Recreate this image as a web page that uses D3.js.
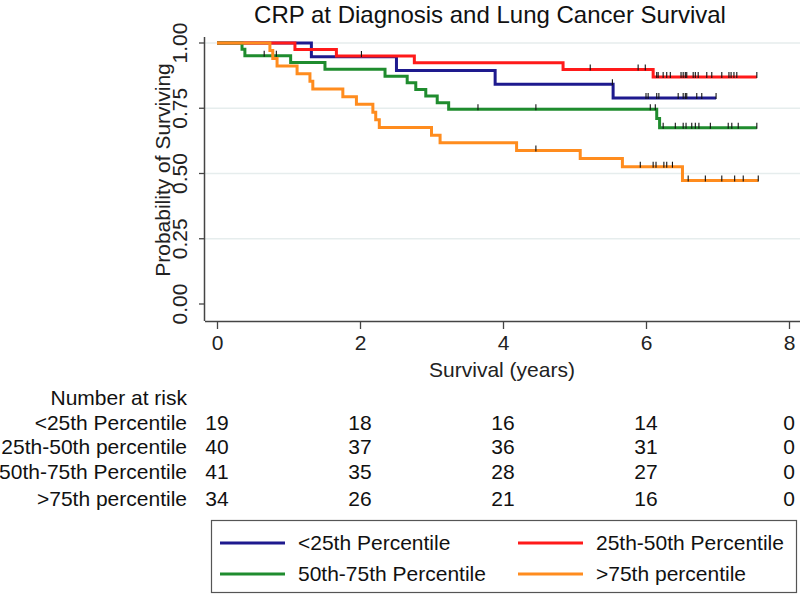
<!DOCTYPE html>
<html><head><meta charset="utf-8">
<script src="https://cdn.jsdelivr.net/npm/d3@7"></script>
<style>body{margin:0;background:#fff}svg{display:block;font-family:"Liberation Sans",Arial,sans-serif}</style>
</head><body><svg id="c" width="800" height="596"></svg>
<script>
const groups = ["<25th Percentile","25th-50th percentile","50th-75th Percentile",">75th percentile"];
const legendLabels = ["<25th Percentile","25th-50th Percentile","50th-75th Percentile",">75th percentile"];
const colors = ["#1e1a8e","#ff1a1a","#1f8c2e","#ff8c1e"];
const xTicks = [0,2,4,6,8];
const yTicks = [0,0.25,0.5,0.75,1];
const yTickLabels = ["0.00","0.25","0.50","0.75","1.00"];

// Kaplan-Meier step data
const timesLt25 = [0,1.32,2.51,3.89,5.54];
const survLt25  = [1,0.947,0.895,0.842,0.789];
const endLt25 = 6.98;
const censLt25 = [5.53,6.0,6.03,6.15,6.18,6.45,6.52,6.55,6.57,6.71,6.78,6.98];

const times2550 = [0,1.09,1.67,2.76,4.84,6.10];
const surv2550  = [1,0.975,0.95,0.924,0.898,0.870];
const end2550 = 7.55;
const cens2550 = [2.02,5.22,5.89,5.99,6.15,6.17,6.24,6.29,6.34,6.49,6.52,6.55,6.57,6.66,6.69,6.73,6.85,6.92,7.06,7.16,7.19,7.23,7.27,7.55];

const times5075 = [0,0.35,0.39,1.03,1.51,2.35,2.66,2.78,2.92,3.08,3.24,6.15,6.19];
const surv5075  = [1,0.976,0.951,0.925,0.899,0.873,0.848,0.822,0.797,0.771,0.746,0.711,0.675];
const end5075 = 7.55;
const cens5075 = [0.66,0.83,3.65,4.46,6.06,6.13,6.24,6.41,6.52,6.56,6.64,6.69,6.74,6.90,7.15,7.20,7.29,7.55];

const timesGt75 = [0,0.74,0.78,0.84,1.12,1.30,1.34,1.76,1.95,2.18,2.22,2.27,3.00,3.12,4.19,5.08,5.67,6.51];
const survGt75  = [1,0.971,0.941,0.912,0.882,0.853,0.824,0.794,0.765,0.735,0.706,0.676,0.647,0.618,0.588,0.557,0.526,0.473];
const endGt75 = 7.57;
const censGt75 = [4.46,5.92,6.10,6.14,6.25,6.29,6.37,6.59,6.83,7.06,7.24,7.36,7.57];

// number at risk (rows = groups, cols = xTicks)
const riskLt25 = [19,18,16,14,0];
const risk2550 = [40,37,36,31,0];
const risk5075 = [41,35,28,27,0];
const riskGt75 = [34,26,21,16,0];

const series = [
  {t:timesLt25,s:survLt25,end:endLt25,c:censLt25},
  {t:times2550,s:surv2550,end:end2550,c:cens2550},
  {t:times5075,s:surv5075,end:end5075,c:cens5075},
  {t:timesGt75,s:survGt75,end:endGt75,c:censGt75}
];
const risk = [riskLt25,risk2550,risk5075,riskGt75];

const svg = d3.select("#c");
const x = d3.scaleLinear().domain([0,8]).range([217,789]);
const y = d3.scaleLinear().domain([0,1]).range([304,43]);
const axisX0 = 205, axisY0 = 321;
const FS = 21;

// title
svg.append("text").attr("x",490).attr("y",23).attr("text-anchor","middle")
  .attr("font-size",24).attr("fill","#111").text("CRP at Diagnosis and Lung Cancer Survival");

// gridlines
svg.append("g").selectAll("line").data(yTicks.filter(d=>d>0)).join("line")
  .attr("x1",axisX0).attr("x2",800).attr("y1",d=>y(d)).attr("y2",d=>y(d))
  .attr("stroke","#e6eded").attr("stroke-width",1.5);

// y axis
const yAxis = d3.axisLeft(y).tickValues(yTicks).tickFormat((d,i)=>yTickLabels[i]).tickSize(6).tickPadding(4);
const gy = svg.append("g").attr("transform",`translate(${axisX0},0)`).call(yAxis);
gy.select(".domain").attr("d",`M-0.5,37V${axisY0}`).attr("stroke","#444").attr("stroke-width",1.5);
gy.selectAll(".tick").attr("transform",null);
gy.selectAll(".tick line").attr("stroke","#444").attr("stroke-width",1.3)
  .attr("y1",d=>y(d)).attr("y2",d=>y(d));
gy.selectAll(".tick text").attr("font-size",FS).attr("fill","#222").attr("text-anchor","middle")
  .attr("x",null).attr("y",0).attr("dy","0")
  .attr("transform",d=>`translate(-18,${y(d)}) rotate(-90)`);

// x axis
const xAxis = d3.axisBottom(x).tickValues(xTicks).tickSize(8).tickPadding(6);
const gx = svg.append("g").attr("transform",`translate(0,${axisY0})`).call(xAxis);
gx.select(".domain").attr("d",`M${axisX0},0.5H800`).attr("stroke","#444").attr("stroke-width",1.5);
gx.selectAll(".tick line").attr("stroke","#444").attr("stroke-width",1.3);
gx.selectAll(".tick text").attr("font-size",FS).attr("fill","#222");

// axis titles
svg.append("text").attr("transform","translate(170,170) rotate(-90)").attr("text-anchor","middle")
  .attr("font-size",FS).attr("fill","#222").text("Probability of Surviving");
svg.append("text").attr("x",502).attr("y",377).attr("text-anchor","middle")
  .attr("font-size",FS).attr("fill","#222").text("Survival (years)");

// curves
const stepAt = (sr,t)=>{let v=sr.s[0];for(let i=0;i<sr.t.length;i++){if(sr.t[i]<=t)v=sr.s[i];}return v;};
const line = d3.line().x(d=>x(d[0])).y(d=>y(d[1])).curve(d3.curveStepAfter);
series.forEach((sr,i)=>{
  const pts = sr.t.map((t,j)=>[t,sr.s[j]]).concat([[sr.end,sr.s[sr.s.length-1]]]);
  svg.append("path").datum(pts).attr("d",line).attr("fill","none")
    .attr("stroke",colors[i]).attr("stroke-width",3);
});
series.forEach((sr,i)=>{
  svg.append("g").selectAll("line").data(sr.c).join("line")
    .attr("x1",d=>x(d)).attr("x2",d=>x(d))
    .attr("y1",d=>y(stepAt(sr,d))-5).attr("y2",d=>y(stepAt(sr,d))+1)
    .attr("stroke","#111").attr("stroke-width",1.1);
});

// number at risk table
svg.append("text").attr("x",187).attr("y",405).attr("text-anchor","end")
  .attr("font-size",FS).attr("fill","#111").text("Number at risk");
const rowY = [430,454,479,506];
groups.forEach((g,i)=>{
  svg.append("text").attr("x",187).attr("y",rowY[i]).attr("text-anchor","end")
    .attr("font-size",FS).attr("fill","#111").text(g);
  svg.append("g").selectAll("text").data(risk[i]).join("text")
    .attr("x",(d,j)=>x(xTicks[j])).attr("y",rowY[i]).attr("text-anchor","middle")
    .attr("font-size",FS).attr("fill","#111").text(d=>d);
});

// legend
const lg = svg.append("g");
lg.append("rect").attr("x",211.5).attr("y",520.5).attr("width",585).attr("height",72)
  .attr("fill","#fff").attr("stroke","#555").attr("stroke-width",1.2);
const legPos = [[220,543],[518,543],[220,574],[518,574]];
legendLabels.forEach((l,i)=>{
  const [lx,ly]=legPos[i];
  lg.append("line").attr("x1",lx).attr("x2",lx+65).attr("y1",ly).attr("y2",ly)
    .attr("stroke",colors[i]).attr("stroke-width",3);
  lg.append("text").attr("x",lx+78).attr("y",ly+7).attr("font-size",FS).attr("fill","#111").text(l);
});
</script></body></html>
